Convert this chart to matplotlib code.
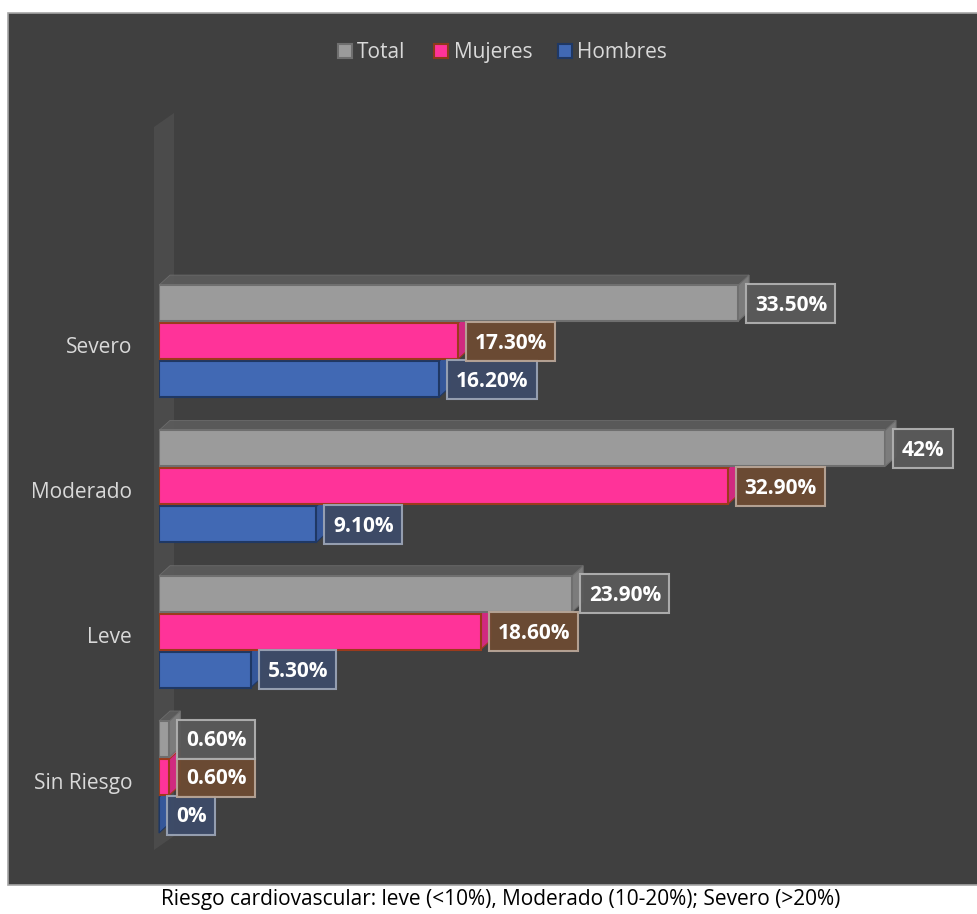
import matplotlib
matplotlib.use('Agg')
import matplotlib.pyplot as plt
from matplotlib.patches import Rectangle, Polygon

# ---------------- data ----------------
categories = ['Sin Riesgo', 'Leve', 'Moderado', 'Severo']
total = [0.6, 23.9, 42.0, 33.5]
mujeres = [0.6, 18.6, 32.9, 17.3]
hombres = [0.0, 5.3, 9.1, 16.2]
total_labels = ['0.60%', '23.90%', '42%', '33.50%']
mujeres_labels = ['0.60%', '18.60%', '32.90%', '17.30%']
hombres_labels = ['0%', '5.30%', '9.10%', '16.20%']
series_names = ['Total', 'Mujeres', 'Hombres']
caption = 'Riesgo cardiovascular: leve (<10%), Moderado (10-20%); Severo (>20%)'

FONT = 'Open Sans'
W, H = 977, 914
fig = plt.figure(figsize=(W / 100, H / 100), dpi=100)
fig.patch.set_facecolor('white')


def fx(x):
    return x / W


def fy(y):
    return 1 - y / H


# dark chart panel
fig.patches.append(Rectangle((fx(8), fy(885)), (W - 8) / W + 0.01, (885 - 13) / H,
                             transform=fig.transFigure, facecolor='#404040',
                             edgecolor='#a6a6a6', lw=1.2, zorder=0))
# 3D side wall
fig.patches.append(Polygon([(fx(154), fy(127)), (fx(174), fy(113)), (fx(174), fy(836)),
                            (fx(154), fy(850))], closed=True, transform=fig.transFigure,
                           facecolor='#4b4b4b', edgecolor='none', zorder=0.5))

# axes mapped onto the plot area
Y0, SY = 777.0, 145.3       # pixel y of category 0 center, pixels per category
SX = 726.0 / 42.0           # pixels per percent


def k(p):
    return (Y0 - p) / SY


ax = fig.add_axes([159 / W, (H - 850) / H, 726 / W, 735 / H])
ax.set_zorder(2)
ax.set_xlim(0, 42)
ax.set_ylim(k(850), k(115))
ax.axis('off')

dx, dy = 11 / SX, 10 / SY
bh = 36 / SY
off = 38 / SY

series = [
    # name, values, labels, offset, front, side, top, edge, boxface, boxedge
    ('Hombres', hombres, hombres_labels, -off, '#4169b4', '#35579a', '#4a70b8', '#1f3864', '#3d4b69', '#9aa3b5'),
    ('Mujeres', mujeres, mujeres_labels, 0.0, '#ff3399', '#d02a80', '#e0609f', '#9c3a1c', '#6d4b33', '#b8a597'),
    ('Total', total, total_labels, off, '#9b9b9b', '#7c7c7c', '#5c5c5c', '#6f6f6f', '#5a5a5a', '#b0b0b0'),
]

ys = list(range(len(categories)))
texts = []
for ci in ys:
    for name, vals, labs, o, front, side, top, edge, bf, be in series:
        v = vals[ci]
        y = ci + o
        yb, yt = y - bh / 2, y + bh / 2
        ax.add_patch(Polygon([(v, yb), (v, yt), (v + dx, yt + dy), (v + dx, yb + dy)], closed=True,
                             facecolor=side, edgecolor=edge, lw=0.8, zorder=2, clip_on=False))
        ax.add_patch(Polygon([(0, yt), (v, yt), (v + dx, yt + dy), (dx, yt + dy)], closed=True,
                             facecolor=top, edgecolor=edge, lw=0.6, alpha=0.9, zorder=2, clip_on=False))
        ax.barh([y], [v], height=bh, left=0, color=front, edgecolor=edge, lw=1.5, zorder=3)
        t = ax.text(v + 17 / SX, y - 7.5 / SY, labs[ci], ha='left', va='baseline',
                    fontsize=15, fontweight='bold', color='white', family=FONT, zorder=6,
                    clip_on=False)
        texts.append((t, y, bf, be))

# category labels
for ci, cat in enumerate(categories):
    ax.text(-27 / SX, ci - 11.5 / SY, cat, ha='right', va='baseline', fontsize=15,
            color='#d9d9d9', family=FONT, clip_on=False)

# label boxes sized from the rendered text
fig.canvas.draw()
r = fig.canvas.get_renderer()
inv = ax.transData.inverted()
for t, y, bf, be in texts:
    bb = t.get_window_extent(r)
    x0 = inv.transform((bb.x0 - 9, 0))[0]
    x1 = inv.transform((bb.x1 + 8, 0))[0]
    ax.add_patch(Rectangle((x0, y - 19.5 / SY), x1 - x0, 39 / SY, facecolor=bf,
                           edgecolor=be, lw=1.5, alpha=0.95, zorder=5, clip_on=False))

# legend
leg = [('Total', 337, 357, '#9b9b9b', '#6f6f6f'),
       ('Mujeres', 433, 454, '#ff3399', '#8b3a1a'),
       ('Hombres', 557, 577, '#4169b4', '#1f3864')]
for name, sqx, tx, fc, ec in leg:
    fig.patches.append(Rectangle((fx(sqx + 1), fy(58)), 14 / W, 14 / H, transform=fig.transFigure,
                                 facecolor=fc, edgecolor=ec, lw=1.5, zorder=3))
    fig.text(fx(tx), fy(58), name, ha='left', va='baseline', fontsize=15,
             color='#d9d9d9', family=FONT)

fig.text(fx(501), fy(905), caption, ha='center', va='baseline', fontsize=15,
         color='black', family=FONT)

fig.savefig('out.png', dpi=100, facecolor='white')
